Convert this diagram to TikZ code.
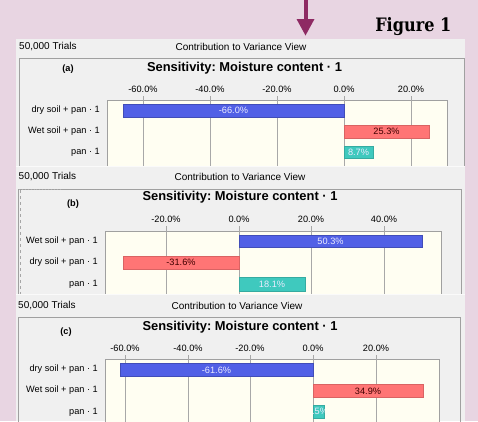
\documentclass[tikz,border=0pt]{standalone}
\usepackage{fontspec}
\usepackage{graphicx}
\setmainfont{Liberation Sans}
\newfontfamily\figfont{DejaVu Serif}
\frenchspacing
\definecolor{bgpink}{HTML}{E8D5E2}
\definecolor{panelgray}{HTML}{F0F0F0}
\definecolor{cream}{HTML}{FFFEF2}
\definecolor{gridgray}{HTML}{A8A8A8}
\definecolor{framegray}{HTML}{A0A0A0}
\definecolor{barblue}{HTML}{5160E6}
\definecolor{barred}{HTML}{FF7575}
\definecolor{barteal}{HTML}{3FC9BE}
\definecolor{arrowcol}{HTML}{8E2A63}
\tikzset{
  plotbox/.style={fill=cream, draw=framegray, line width=0.8pt},
  framebox/.style={draw=framegray, line width=0.8pt},
  gridline/.style={draw=gridgray, line width=0.9pt},
  bluebar/.style={fill=barblue, draw=barblue!80!black, line width=0.4pt},
  redbar/.style={fill=barred, draw=barred!85!black, line width=0.4pt},
  tealbar/.style={fill=barteal, draw=barteal!85!black, line width=0.4pt},
  smalltxt/.style={font=\fontsize{10}{12}\selectfont, inner sep=0pt},
  cattxt/.style={font=\fontsize{9.2}{11}\selectfont, inner sep=0pt, anchor=east},
  axtxt/.style={font=\fontsize{9.2}{11}\selectfont, inner sep=0pt},
  titletxt/.style={font=\fontsize{12.9}{15}\selectfont\bfseries, inner sep=0pt},
  tagtxt/.style={font=\fontsize{9.2}{10}\selectfont\bfseries, inner sep=0pt},
  barlabw/.style={font=\fontsize{9.2}{11}\selectfont, inner sep=0pt, text=white!92!blue},
  barlabd/.style={font=\fontsize{9.2}{11}\selectfont, inner sep=0pt, text=black!75!red},
  sepline/.style={draw=white!70!panelgray, line width=1pt}
}
\begin{document}
\begin{tikzpicture}[x=1pt,y=-1pt]
\useasboundingbox (0,0) rectangle (478,421);
\fill[bgpink] (0,0) rectangle (478,421);

% arrow and figure title
\fill[arrowcol] (304,0) rectangle (308,20);
\fill[arrowcol] (296.5,19) -- (314.5,19) -- (305.5,35.5) -- cycle;
\node[font=\fontsize{18.5}{22}\selectfont\figfont\bfseries, inner sep=0pt, anchor=base east] (fig) at (451.5,31.5) {\scalebox{0.87}[1]{Figure 1}};

% ================= Panel (a) =================
\begin{scope}
\clip (16,39) rectangle (465,166);
\fill[panelgray] (16,39) rectangle (465,166);
\node[smalltxt, anchor=west] (trialsA) at (19,47) {50,000 Trials};
\node[smalltxt] (cvA) at (241,46.5) {Contribution to Variance View};
\draw[framebox] (19,170) -- (19,58) -- (464,58) -- (464,170);
\node[tagtxt] (tagA) at (68,69.5) {(a)};
\node[titletxt] (titleA) at (244.5,68.5) {Sensitivity: Moisture content · 1};
\draw[plotbox] (107,170) -- (107,100) -- (447,100) -- (447,170);
\foreach \x/\l in {143/-60.0\%,210/-40.0\%,277/-20.0\%,344/0.0\%,411/20.0\%}{
  \node[axtxt] at (\x,89) {\l};
  \draw[gridline] (\x,96) -- (\x,170);
}
\node[cattxt] (dA) at (100,110.5) {dry soil + pan · 1};
\node[cattxt] (wA) at (100,131.5) {Wet soil + pan · 1};
\node[cattxt] (pA) at (100,152) {pan · 1};
\draw[bluebar] (123,104) rectangle (344,117);
\node[barlabw] (bdA) at (233.5,110.5) {-66.0\%};
\draw[redbar] (344,125) rectangle (429,138);
\node[barlabd] (bwA) at (386.5,131.5) {25.3\%};
\draw[tealbar] (344,146) rectangle (373,158.5);
\node[barlabw] (bpA) at (358.5,152.3) {8.7\%};
\end{scope}

% ================= Panel (b) =================
\begin{scope}
\clip (16,166) rectangle (465,294);
\fill[panelgray] (16,166) rectangle (465,294);
\draw[sepline] (16,166.5) -- (465,166.5);
\node[smalltxt, anchor=west] (trialsB) at (18.5,177) {50,000 Trials};
\node[smalltxt] (cvB) at (240,176.5) {Contribution to Variance View};
\draw[framebox] (18.5,300) -- (18.5,189) -- (461,189) -- (461,300);
\draw[draw=gray!60, dotted, line width=0.9pt] (19,189.5) -- (62,189.5);
\draw[draw=gray!70, dashed, line width=0.6pt] (20.5,190) -- (20.5,300);
\node[tagtxt] (tagB) at (73,204) {(b)};
\node[titletxt] (titleB) at (240,197.5) {Sensitivity: Moisture content · 1};
\draw[plotbox] (105,300) -- (105,231) -- (441,231) -- (441,300);
\foreach \x/\l in {166/-20.0\%,239/0.0\%,311/20.0\%,384/40.0\%}{
  \node[axtxt] at (\x,219.5) {\l};
  \draw[gridline] (\x,226) -- (\x,300);
}
\node[cattxt] (wB) at (98,241) {Wet soil + pan · 1};
\node[cattxt] (dB) at (98,262.5) {dry soil + pan · 1};
\node[cattxt] (pB) at (98,284) {pan · 1};
\draw[bluebar] (239,235) rectangle (422,247.5);
\node[barlabw] (bwB) at (330.5,241.3) {50.3\%};
\draw[redbar] (123,256) rectangle (239,269);
\node[barlabd] (bdB) at (181,262.5) {-31.6\%};
\draw[tealbar] (239,277) rectangle (305,291);
\node[barlabw] (bpB) at (272,284) {18.1\%};
\end{scope}

% ================= Panel (c) =================
\begin{scope}
\clip (16,294) rectangle (465,421);
\fill[panelgray] (16,294) rectangle (465,421);
\draw[sepline] (16,294.5) -- (465,294.5);
\node[smalltxt, anchor=west] (trialsC) at (18,306) {50,000 Trials};
\node[smalltxt] (cvC) at (237,306) {Contribution to Variance View};
\draw[framebox] (18,430) -- (18,317) -- (460.5,317) -- (460.5,430);
\node[tagtxt] (tagC) at (66,332) {(c)};
\node[titletxt] (titleC) at (240,327) {Sensitivity: Moisture content · 1};
\draw[plotbox] (105,430) -- (105,359) -- (439.5,359) -- (439.5,430);
\foreach \x/\l in {125/-60.0\%,188/-40.0\%,250/-20.0\%,313/0.0\%,376/20.0\%}{
  \node[axtxt] at (\x,348) {\l};
  \draw[gridline] (\x,355) -- (\x,430);
}
\node[cattxt] (dC) at (98,369.5) {dry soil + pan · 1};
\node[cattxt] (wC) at (98,390.5) {Wet soil + pan · 1};
\node[cattxt] (pC) at (98,412) {pan · 1};
\draw[bluebar] (120,363) rectangle (313,376);
\node[barlabw] (bdC) at (216.5,370) {-61.6\%};
\draw[redbar] (313,384) rectangle (423,397);
\node[barlabd] (bwC) at (368,391) {34.9\%};
\draw[tealbar] (313,405) rectangle (324.5,418);
\begin{scope}
\clip (313,405) rectangle (324.5,418);
\node[barlabw] (bpC) at (317.5,411.8) {3.5\%};
\end{scope}
\end{scope}
\end{tikzpicture}
\end{document}
